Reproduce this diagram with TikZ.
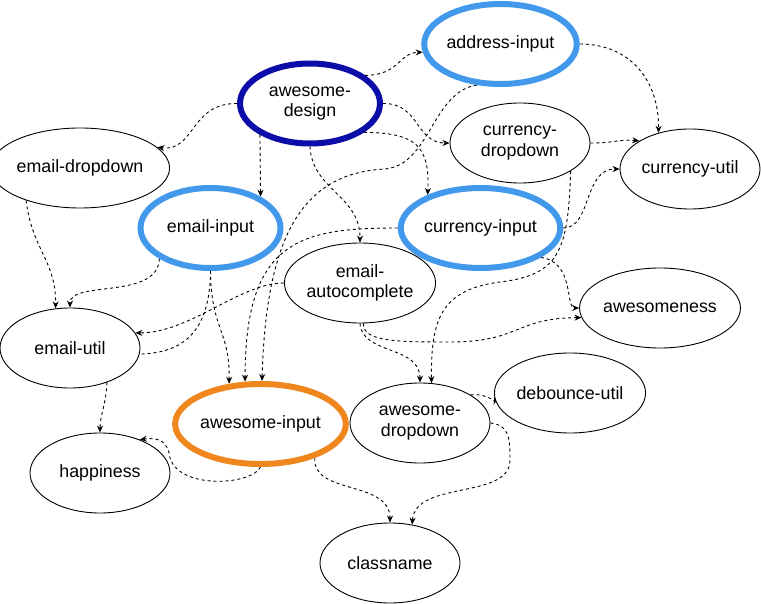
\documentclass[tikz,border=0pt]{standalone}
\usepackage{fontspec}
\setmainfont{Liberation Sans}
\usetikzlibrary{shapes.geometric,arrows.meta,backgrounds}
\definecolor{dblue}{RGB}{12,12,168}
\definecolor{lblue}{RGB}{66,153,235}
\definecolor{orng}{RGB}{240,135,30}
\begin{document}
\begin{tikzpicture}[x=1pt,y=-1pt,
  basenode/.style={ellipse, minimum width=140pt, minimum height=80pt, inner sep=0pt, fill=white, align=center, font=\fontsize{17.8}{20.5}\selectfont},
  thinnode/.style={basenode, draw=black, line width=0.9pt},
  boldnode/.style={basenode, line width=6pt},
  deplink/.style={draw=black, line width=0.9pt, dash pattern=on 3pt off 3pt},
  dep/.style={deplink, -{Stealth[length=7pt,width=6pt]}}]
\useasboundingbox (0,0) rectangle (761,604);
% nodes
\node[boldnode, draw=dblue] (ads) at (310,103.5) {awesome-\\design};
\node[boldnode, draw=lblue] (adi) at (500.5,44) {address-input};
\node[thinnode] (cd) at (520,143) {currency-\\dropdown};
\node[thinnode] (cu) at (690,169) {currency-util};
\node[thinnode] (ed) at (80,168) {email-dropdown};
\node[boldnode, draw=lblue] (ei) at (210.5,228) {email-input};
\node[boldnode, draw=lblue] (ci) at (480.5,228) {currency-input};
\node[thinnode] (eac) at (360,283) {email-\\autocomplete};
\node[thinnode] (aw) at (660,308) {awesomeness};
\node[thinnode] (eu) at (70,348) {email-util};
\node[boldnode, draw=orng] (ain) at (260.5,424) {awesome-input};
\node[thinnode] (ad) at (420,423) {awesome-\\dropdown};
\node[thinnode] (dbu) at (570,393) {debounce-util};
\node[thinnode] (hp) at (100,473) {happiness};
\node[thinnode] (cn) at (390,563) {classname};
% connectors
\begin{scope}[on background layer]
\draw[dep] (ads.27) .. controls (400,75) and (398,53) .. (adi.186);
\draw[dep] (ads.180) .. controls (190,103) and (195,152) .. (ed.15);
\draw[dep] (ads.-148) -- (ei.32);
\draw[dep] (ads.south) .. controls (312,190) and (360,195) .. (eac.north);
\draw[dep] (ads.east) .. controls (420,103) and (415,143) .. (cd.west);
\draw[dep] (ads.-28) .. controls (415,133) and (430,145) .. (ci.148.5);
\draw[dep] (adi.east) .. controls (630,44) and (659,80) .. (cu.131);
\draw[dep] (adi.240) .. controls (432,92) and (430,165) .. (385,169) .. controls (300,173) and (266,240) .. (ain.88);
\draw[dep] (cd.east) .. controls (615,143) and (620,139) .. (cu.151);
\draw[dep] (cd.-29) .. controls (568,250) and (560,275) .. (500,282) .. controls (440,290) and (431,320) .. (ad.74);
\draw[dep] (ci.east) .. controls (592,228) and (583,169) .. (cu.west);
\draw[dep] (ci.-26) .. controls (575,262) and (565,308) .. (aw.west);
\draw[dep] (ci.west) .. controls (300,228) and (245,240) .. (ain.110);
\draw[dep] (eac.west) .. controls (240,283) and (190,333) .. (eu.13);
\draw[dep] (ei.211.5) .. controls (158,300) and (70,280) .. (eu.north);
\draw[dep] (ed.211) .. controls (32,250) and (56,260) .. (eu.110);
\draw[dep] (ei.south) .. controls (211,330) and (230,330) .. (ain.128);
\draw[deplink] (ei.south) .. controls (210,340) and (175,353) .. (eu.-5);
\draw[dep] (eu.-43) .. controls (106,405) and (100,415) .. (hp.north);
\draw[dep] (ain.south) .. controls (252,485) and (180,490) .. (170,458) .. controls (168,442) and (160,437) .. (hp.40);
\draw[dep] (ain.-32.5) .. controls (312,495) and (390,480) .. (cn.north);
\draw[dep] (ad.east) .. controls (510,425) and (510,440) .. (510,460) .. controls (510,500) and (415,480) .. (cn.60);
\draw[dep] (ad.29) .. controls (490,393) and (497,405) .. (dbu.183);
\draw[dep] (eac.south) .. controls (362,355) and (420,345) .. (ad.north);
\draw[dep] (eac.-85) .. controls (362,342) and (400,342) .. (450,342) .. controls (520,342) and (515,318) .. (aw.187);
\end{scope}
\end{tikzpicture}
\end{document}
